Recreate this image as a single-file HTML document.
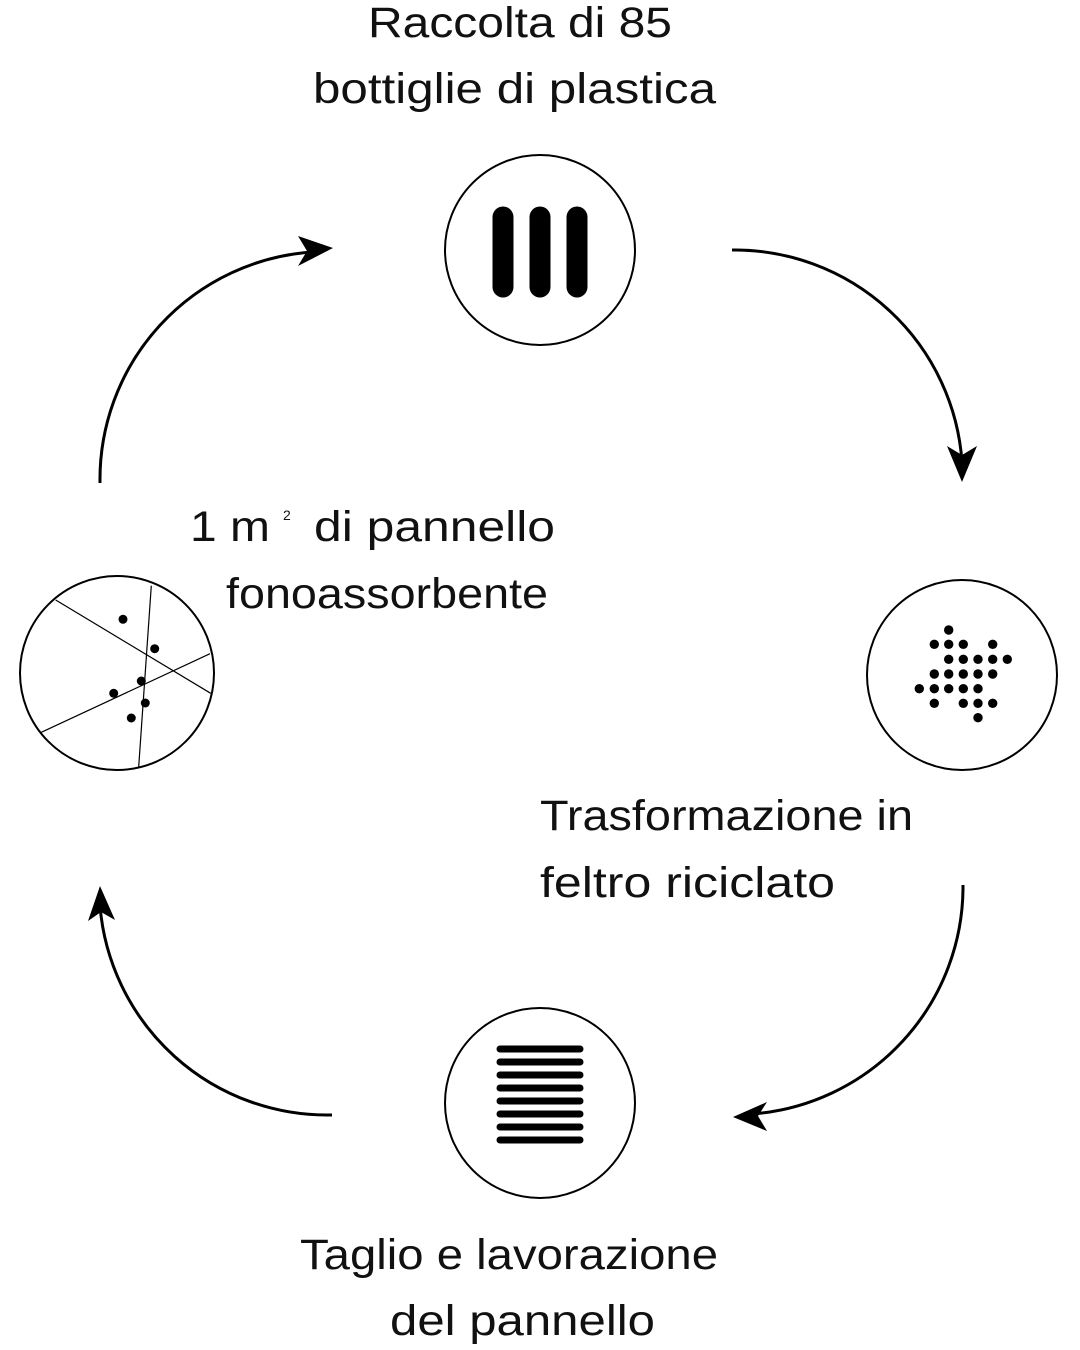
<!DOCTYPE html>
<html><head><meta charset="utf-8"><style>
html,body{margin:0;padding:0;background:#fff}
svg{display:block}
text{font-family:"Liberation Sans",sans-serif;font-size:43px;fill:#111}
</style></head><body>
<svg width="1080" height="1350" viewBox="0 0 1080 1350" xmlns="http://www.w3.org/2000/svg">
<g fill="none" stroke="#000" stroke-width="3">
<path d="M732 250 A228 228 0 0 1 962 462"/>
<path d="M100 483 A228 228 0 0 1 312 252"/>
<path d="M963 885 A228 228 0 0 1 752 1114"/>
<path d="M332 1115 A228 228 0 0 1 100 906"/>
</g>
<g fill="#000">
<polygon points="962,482 947,446 962,455 977,446"/>
<polygon points="333,248 298,236 307,251 298,266"/>
<polygon points="733,1117 767,1102 758,1116 767,1131"/>
<polygon points="100,886 88,921 101,912 115,920"/>
</g>
<g fill="none" stroke="#000" stroke-width="2">
<circle cx="540" cy="250" r="95"/>
<circle cx="962" cy="675" r="95"/>
<circle cx="540" cy="1103" r="95"/>
<circle cx="117" cy="673" r="97"/>
</g>
<g stroke="#000" stroke-linecap="round" stroke-width="21">
<line x1="503" y1="217" x2="503" y2="287"/>
<line x1="540" y1="217" x2="540" y2="287"/>
<line x1="577" y1="217" x2="577" y2="287"/>
</g>
<g stroke="#000" stroke-linecap="round" stroke-width="7">
<line x1="500" y1="1049" x2="580" y2="1049"/>
<line x1="500" y1="1062" x2="580" y2="1062"/>
<line x1="500" y1="1075" x2="580" y2="1075"/>
<line x1="500" y1="1088" x2="580" y2="1088"/>
<line x1="500" y1="1101" x2="580" y2="1101"/>
<line x1="500" y1="1114" x2="580" y2="1114"/>
<line x1="500" y1="1127" x2="580" y2="1127"/>
<line x1="500" y1="1140" x2="580" y2="1140"/>
</g>
<g fill="#000">
<circle cx="948.7" cy="630" r="4.7"/>
<circle cx="934.3" cy="644.3" r="4.7"/><circle cx="948.7" cy="644.3" r="4.7"/><circle cx="963.3" cy="644.3" r="4.7"/><circle cx="992.7" cy="644.3" r="4.7"/>
<circle cx="948.7" cy="659.3" r="4.7"/><circle cx="963.3" cy="659.3" r="4.7"/><circle cx="978" cy="659.3" r="4.7"/><circle cx="992.7" cy="659.3" r="4.7"/><circle cx="1007.3" cy="659.3" r="4.7"/>
<circle cx="934.3" cy="674" r="4.7"/><circle cx="948.7" cy="674" r="4.7"/><circle cx="963.3" cy="674" r="4.7"/><circle cx="978" cy="674" r="4.7"/><circle cx="992.7" cy="674" r="4.7"/>
<circle cx="919.3" cy="688.7" r="4.7"/><circle cx="934.3" cy="688.7" r="4.7"/><circle cx="948.7" cy="688.7" r="4.7"/><circle cx="963.3" cy="688.7" r="4.7"/><circle cx="978" cy="688.7" r="4.7"/>
<circle cx="934.3" cy="703.3" r="4.7"/><circle cx="963.3" cy="703.3" r="4.7"/><circle cx="978" cy="703.3" r="4.7"/><circle cx="992.7" cy="703.3" r="4.7"/>
<circle cx="978" cy="717.7" r="4.7"/>
</g>
<g stroke="#000" stroke-width="1.2">
<line x1="55.7" y1="600" x2="210.7" y2="693.3"/>
<line x1="151.3" y1="585.7" x2="138.7" y2="766.7"/>
<line x1="41.3" y1="732.3" x2="210" y2="653.7"/>
</g>
<g fill="#000">
<circle cx="123" cy="619.3" r="4.5"/><circle cx="154.7" cy="648.7" r="4.5"/><circle cx="141.3" cy="681" r="4.5"/>
<circle cx="113.7" cy="693.3" r="4.5"/><circle cx="145.3" cy="703" r="4.5"/><circle cx="131.3" cy="718" r="4.5"/>
</g>
<text x="368" y="37" textLength="304" lengthAdjust="spacingAndGlyphs">Raccolta di 85</text>
<text x="313" y="103" textLength="403" lengthAdjust="spacingAndGlyphs">bottiglie di plastica</text>
<text x="190" y="541" textLength="80" lengthAdjust="spacingAndGlyphs">1 m</text>
<text x="283" y="520" style="font-size:14px">2</text>
<text x="314" y="541" textLength="241" lengthAdjust="spacingAndGlyphs">di pannello</text>
<text x="226" y="608" textLength="322" lengthAdjust="spacingAndGlyphs">fonoassorbente</text>
<text x="540" y="830" textLength="373" lengthAdjust="spacingAndGlyphs">Trasformazione in</text>
<text x="540" y="897" textLength="295" lengthAdjust="spacingAndGlyphs">feltro riciclato</text>
<text x="300" y="1269" textLength="418" lengthAdjust="spacingAndGlyphs">Taglio e lavorazione</text>
<text x="390" y="1335" textLength="265" lengthAdjust="spacingAndGlyphs">del pannello</text>
</svg>
</body></html>
